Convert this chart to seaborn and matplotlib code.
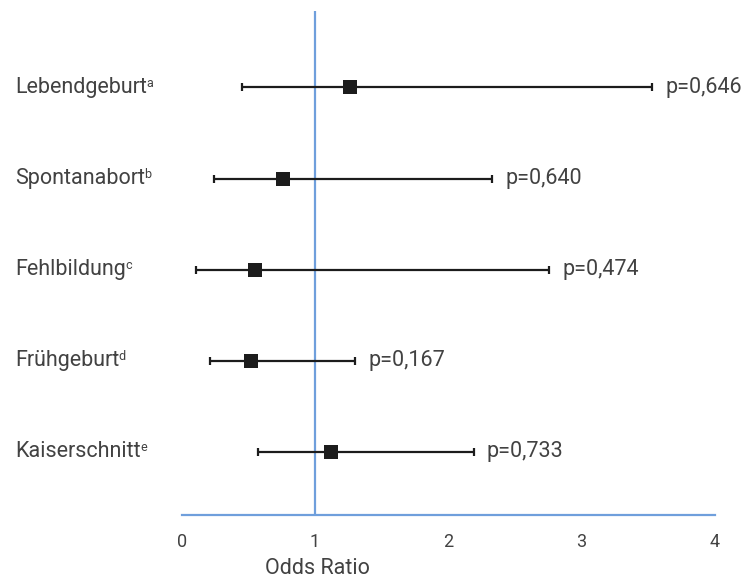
import numpy as np
import pandas as pd
import seaborn as sns
import matplotlib.pyplot as plt
from matplotlib.transforms import blended_transform_factory

# data
outcomes = ['Lebendgeburt', 'Spontanabort', 'Fehlbildung', 'Frühgeburt', 'Kaiserschnitt']
footnotes = ['a', 'b', 'c', 'd', 'e']
odds_ratio = [1.26, 0.76, 0.55, 0.52, 1.12]
ci_low = [0.45, 0.24, 0.11, 0.21, 0.57]
ci_high = [3.53, 2.33, 2.76, 1.30, 2.19]
p_values = ['p=0,646', 'p=0,640', 'p=0,474', 'p=0,167', 'p=0,733']
x_ticks = [0, 1, 2, 3, 4]

df = pd.DataFrame({'outcome': outcomes, 'or': odds_ratio, 'lo': ci_low, 'hi': ci_high})
df['row'] = np.arange(len(df))

sns.set_style('white')
plt.rcParams['font.family'] = ['Roboto', 'DejaVu Sans']

blue = '#6f9fdc'
ink = '#1c1c1c'
txt = '#424242'

fig = plt.figure(figsize=(7.52, 5.80), dpi=100)
ax = fig.add_axes([181.7 / 752, 1 - 515 / 580, 533 / 752, (515 - 11) / 580])

ax.errorbar(df['or'], df['row'],
            xerr=[df['or'] - df['lo'], df['hi'] - df['or']],
            fmt='none', ecolor=ink, elinewidth=1.6, capsize=3, capthick=1.6, zorder=2)
sns.scatterplot(data=df, x='or', y='row', marker='s', s=115, color=ink,
                edgecolor=ink, linewidth=0, ax=ax, zorder=3)

ax.axvline(1, color=blue, lw=1.6, zorder=1)

ax.set_xlim(0, 4)
ax.set_ylim(4.695, -0.84)
ax.set_xticks(x_ticks)
ax.set_xticklabels([str(t) for t in x_ticks], fontsize=13, color=txt)
ax.set_yticks([])
ax.set_ylabel('')
ax.set_xlabel('Odds Ratio', fontsize=15.5, color=txt)
ax.xaxis.set_label_coords(0.255, -0.085)
ax.tick_params(axis='x', direction='out', length=10, width=1.6, color=blue, pad=3)
for side in ['top', 'right', 'left']:
    ax.spines[side].set_visible(False)
ax.spines['bottom'].set_color(blue)
ax.spines['bottom'].set_linewidth(1.6)

# row labels with superscript footnote letters
trans = blended_transform_factory(fig.transFigure, ax.transData)
labels = []
for i, name in enumerate(outcomes):
    t = ax.text(15 / 752, i, name, transform=trans, ha='left', va='center',
                fontsize=15.5, color=txt)
    labels.append(t)

fig.canvas.draw()
renderer = fig.canvas.get_renderer()
for i, t in enumerate(labels):
    bb = t.get_window_extent(renderer)
    ax.annotate(footnotes[i], xy=(bb.x1, bb.y1), xycoords='figure pixels',
                xytext=(-0.3, 0.0), textcoords='offset points',
                ha='left', va='top', fontsize=9, color=txt)

# p-values to the right of each interval
for i, p in enumerate(p_values):
    ax.annotate(p, xy=(ci_high[i], i), xytext=(9.5, 0), textcoords='offset points',
                ha='left', va='center', fontsize=15.5, color=txt, annotation_clip=False)

fig.savefig('out.png', dpi=100)
